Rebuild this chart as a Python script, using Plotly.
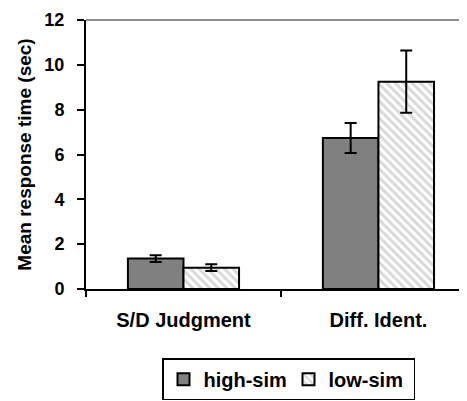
import plotly.graph_objects as go

categories = ["S/D Judgment", "Diff. Ident."]
high_sim = [1.36, 6.74]
high_sim_err = [0.15, 0.67]
low_sim = [0.95, 9.25]
low_sim_err = [0.15, 1.39]
y_ticks = [0, 2, 4, 6, 8, 10, 12]

FONT = "Liberation Sans"

fig = go.Figure()
fig.add_trace(go.Bar(
    name="high-sim", x=categories, y=high_sim,
    error_y=dict(type="data", array=high_sim_err, color="black", thickness=2, width=6),
    marker=dict(color="#808080", line=dict(color="black", width=2)),
))
fig.add_trace(go.Bar(
    name="low-sim", x=categories, y=low_sim,
    error_y=dict(type="data", array=low_sim_err, color="black", thickness=2, width=6),
    marker=dict(color="white", line=dict(color="black", width=2),
                pattern=dict(shape="\\", fgcolor="#b4b4b4", bgcolor="white",
                             size=6, solidity=0.5)),
))

# page body has an 8px margin, so the figure is sized/offset to compensate
fig.update_layout(
    width=459, height=393,
    margin=dict(l=78, r=1, t=12, b=109),
    paper_bgcolor="white", plot_bgcolor="white",
    barmode="group", bargap=0.43, bargroupgap=0,
    font=dict(family=FONT, color="black"),
    showlegend=True,
    legend=dict(orientation="h", x=0.2, y=-0.257, xanchor="left", yanchor="top",
                bordercolor="black", borderwidth=1.5, bgcolor="white",
                font=dict(family=FONT, size=20, color="black", weight="bold"),
                itemwidth=30, entrywidth=80, traceorder="normal"),
    xaxis=dict(range=[-0.5, 1.449], showline=True, linecolor="black", linewidth=2,
               ticks="outside", tickson="boundaries", ticklen=6, tickwidth=2, tickcolor="black",
               tickfont=dict(family=FONT, size=20, color="black", weight="bold"),
               ticklabelstandoff=12, showgrid=False, fixedrange=True),
    yaxis=dict(range=[0, 12], tickvals=y_ticks,
               ticktext=[f"<b>{v}</b>" for v in y_ticks],
               showline=True, linecolor="black", linewidth=2,
               ticks="outside", ticklen=7, tickwidth=2, tickcolor="black",
               tickfont=dict(family=FONT, size=18, color="black", weight="bold"),
               ticklabelstandoff=9, showgrid=False, zeroline=False,
               title=dict(text="Mean response time (sec)",
                          font=dict(family=FONT, size=19, color="black", weight="bold"),
                          standoff=8)),
    shapes=[dict(type="line", xref="paper", yref="paper", x0=0, x1=1, y0=1, y1=1,
                 line=dict(color="#8c8c8c", width=2))],
)

fig.write_html("out.html")
